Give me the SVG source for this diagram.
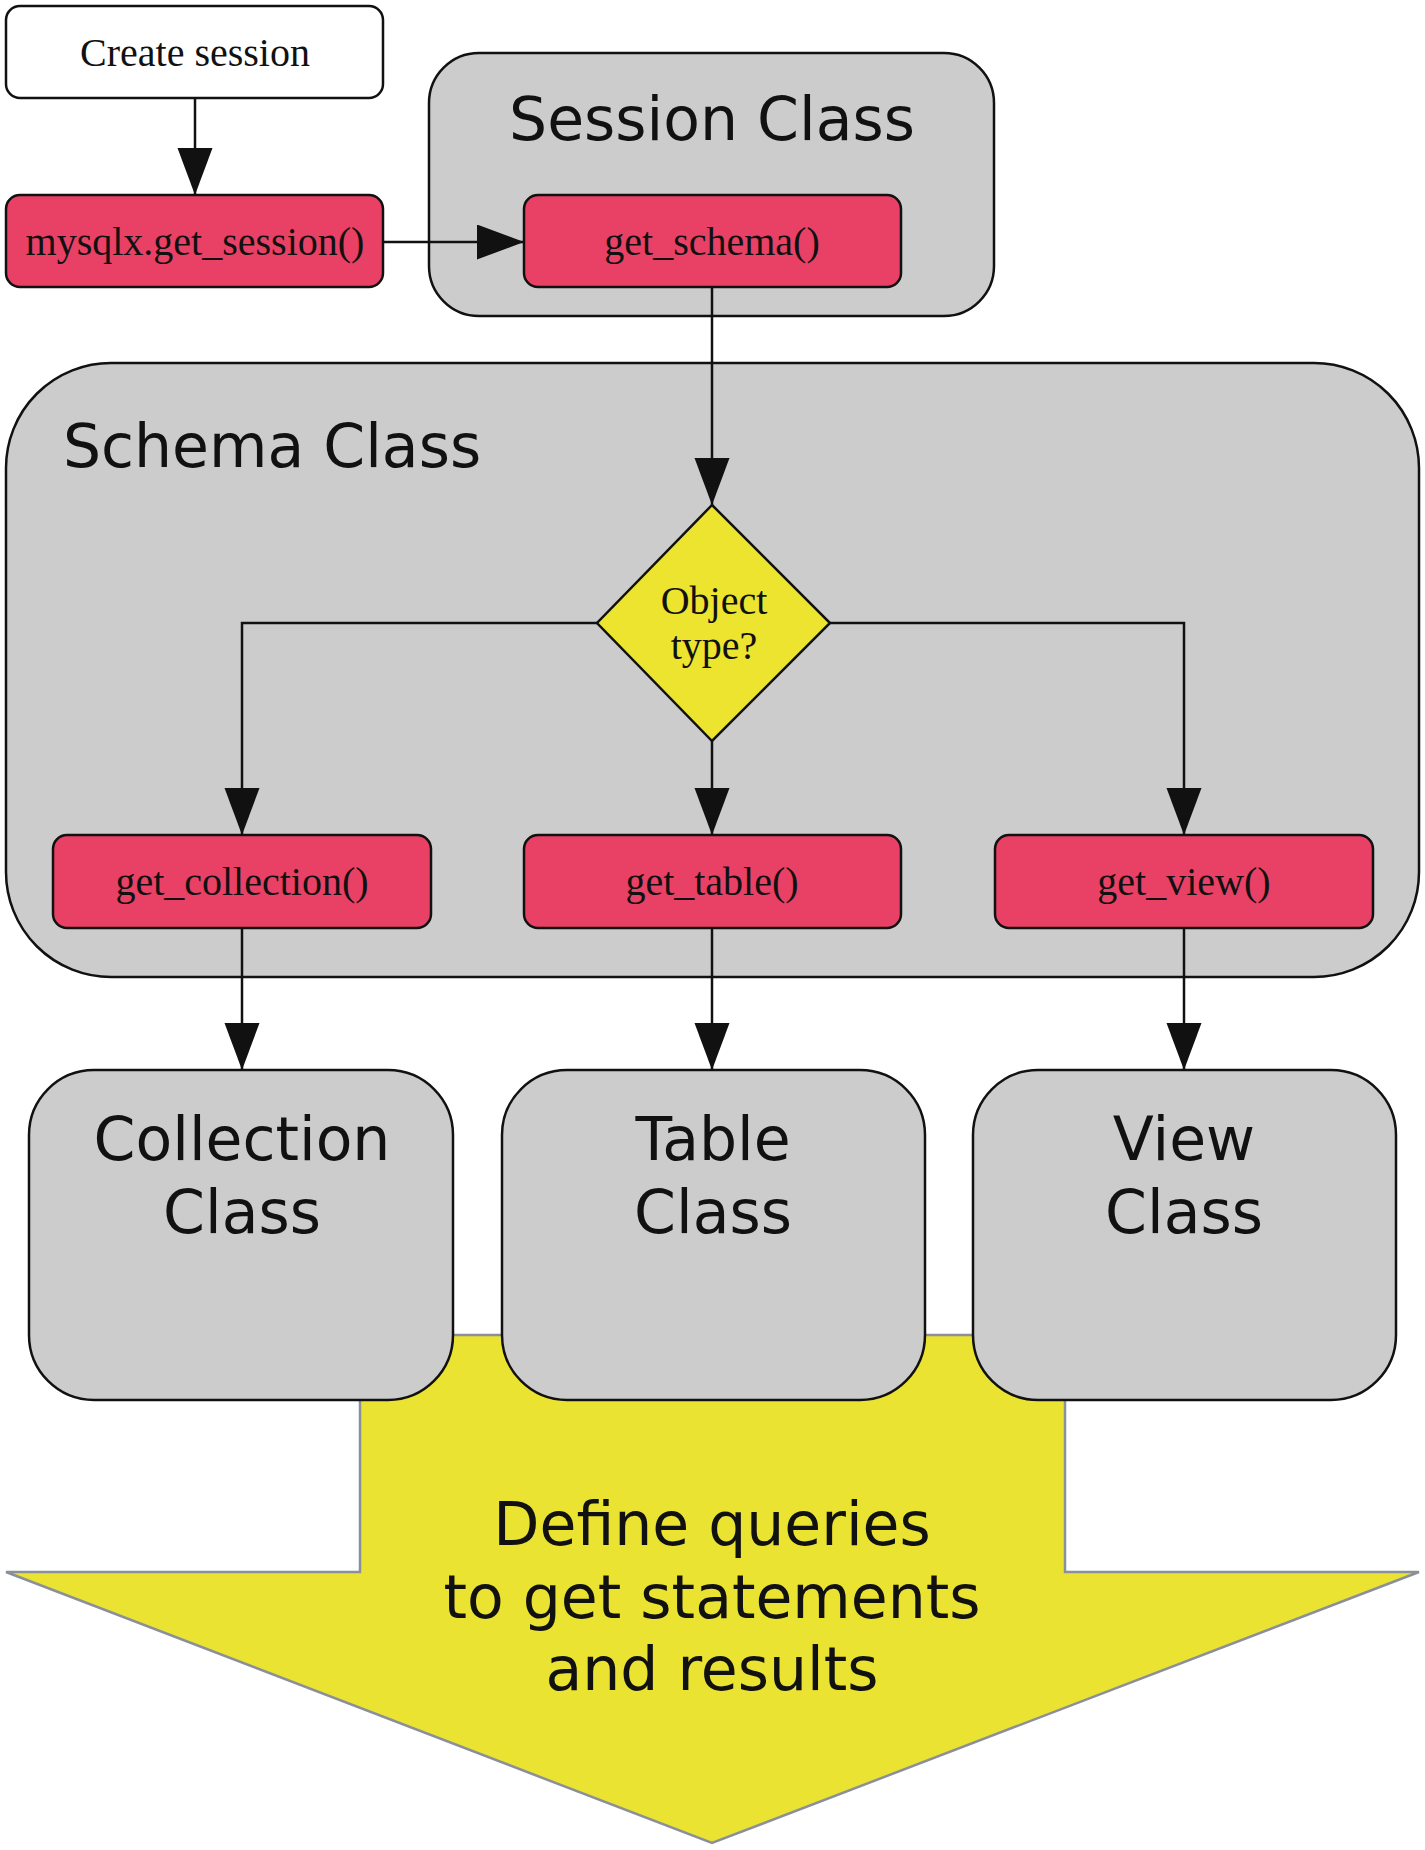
<svg xmlns="http://www.w3.org/2000/svg" width="1425" height="1850" viewBox="0 0 1425 1850">
<style>
.red{fill:#e94065;stroke:#111;stroke-width:2.5}
.gray{fill:#cccccc;stroke:#111;stroke-width:2.5}
.white{fill:#fff;stroke:#111;stroke-width:2.5}
.serif{font-family:"Liberation Serif","Times New Roman",serif;font-size:40px;fill:#111;text-anchor:middle}
.sans{font-family:"DejaVu Sans",Verdana,sans-serif;font-size:60px;fill:#111}
.mid{text-anchor:middle}
.conn{fill:none;stroke:#111;stroke-width:2.5}
</style>
<defs>
<marker id="ah" markerUnits="userSpaceOnUse" markerWidth="48" markerHeight="36" refX="47" refY="17.5" orient="auto">
<path d="M0,0 L47,17.5 L0,35 Z" fill="#111"/>
</marker>
</defs>
<g id="result-arrow">
<polygon points="360,1335 1065,1335 1065,1572 1419,1572 712,1843 6,1572 360,1572" fill="#ebe332" stroke="#8a8f99" stroke-width="2.5"/>
<text class="sans mid" x="712" y="1545">Define queries</text>
<text class="sans mid" x="712" y="1618">to get statements</text>
<text class="sans mid" x="712" y="1690">and results</text>
</g>
<g id="session-class">
<rect class="gray" x="429" y="53" width="565" height="263" rx="50"/>
<text class="sans mid" x="712" y="140">Session Class</text>
</g>
<g id="schema-class">
<rect class="gray" x="6" y="363" width="1413" height="614" rx="105"/>
<text class="sans" x="63" y="467">Schema Class</text>
</g>
<g id="create-session">
<rect class="white" x="6" y="6" width="377" height="92" rx="14"/>
<text class="serif" x="195" y="66">Create session</text>
</g>
<g id="get-session">
<rect class="red" x="6" y="195" width="377" height="92" rx="14"/>
<text class="serif" x="195" y="255">mysqlx.get_session()</text>
</g>
<g id="get-schema">
<rect class="red" x="524" y="195" width="377" height="92" rx="14"/>
<text class="serif" x="712" y="255">get_schema()</text>
</g>
<g id="object-type">
<polygon points="712,505 830,623 712,741 597,623" fill="#ece42f" stroke="#111" stroke-width="2.5"/>
<text class="serif" x="714" y="614">Object</text>
<text class="serif" x="714" y="659">type?</text>
</g>
<g id="get-collection">
<rect class="red" x="53" y="835" width="378" height="93" rx="14"/>
<text class="serif" x="242" y="895">get_collection()</text>
</g>
<g id="get-table">
<rect class="red" x="524" y="835" width="377" height="93" rx="14"/>
<text class="serif" x="712" y="895">get_table()</text>
</g>
<g id="get-view">
<rect class="red" x="995" y="835" width="378" height="93" rx="14"/>
<text class="serif" x="1184" y="895">get_view()</text>
</g>
<g id="collection-class">
<rect class="gray" x="29" y="1070" width="424" height="330" rx="65"/>
<text class="sans mid" x="242" y="1160">Collection</text>
<text class="sans mid" x="242" y="1233">Class</text>
</g>
<g id="table-class">
<rect class="gray" x="502" y="1070" width="423" height="330" rx="65"/>
<text class="sans mid" x="713" y="1160">Table</text>
<text class="sans mid" x="713" y="1233">Class</text>
</g>
<g id="view-class">
<rect class="gray" x="973" y="1070" width="423" height="330" rx="65"/>
<text class="sans mid" x="1184" y="1160">View</text>
<text class="sans mid" x="1184" y="1233">Class</text>
</g>
<g id="connectors">
<path class="conn" d="M195,98 V195" marker-end="url(#ah)"/>
<path class="conn" d="M383,242 H524" marker-end="url(#ah)"/>
<path class="conn" d="M712,287 V505" marker-end="url(#ah)"/>
<path class="conn" d="M597,623 H242 V835" marker-end="url(#ah)"/>
<path class="conn" d="M712,741 V835" marker-end="url(#ah)"/>
<path class="conn" d="M830,623 H1184 V835" marker-end="url(#ah)"/>
<path class="conn" d="M242,928 V1070" marker-end="url(#ah)"/>
<path class="conn" d="M712,928 V1070" marker-end="url(#ah)"/>
<path class="conn" d="M1184,928 V1070" marker-end="url(#ah)"/>
</g>
</svg>
